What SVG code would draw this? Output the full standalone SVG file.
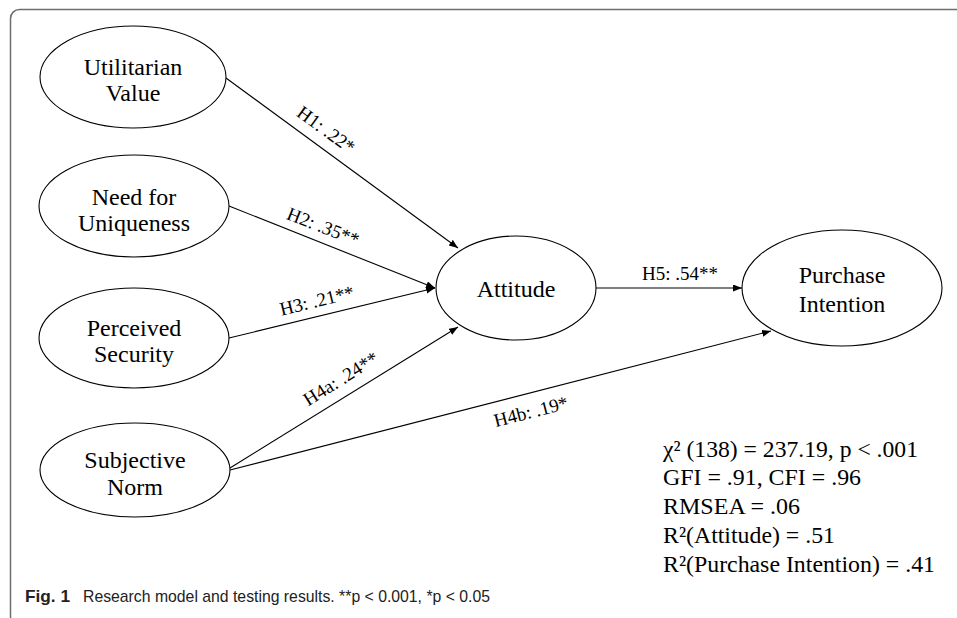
<svg xmlns="http://www.w3.org/2000/svg" width="957" height="618" viewBox="0 0 957 618">
  <style>
    .node { fill: #ffffff; stroke: #000000; stroke-width: 1.1; }
    .label { font-family: "Liberation Serif", "Times New Roman", serif; font-size: 24px; fill: #000000; text-anchor: middle; }
    .edge { fill: none; stroke: #000000; stroke-width: 1.1; marker-end: url(#arrow); }
    .elabel { font-family: "Liberation Serif", "Times New Roman", serif; font-size: 19px; fill: #000000; text-anchor: middle; }
    .stats { font-family: "Liberation Serif", "Times New Roman", serif; font-size: 23px; fill: #000000; }
    .caption { font-family: "Liberation Sans", Arial, sans-serif; font-size: 17px; fill: #222222; }
  </style>
  <defs>
    <marker id="arrow" markerUnits="userSpaceOnUse" markerWidth="10" markerHeight="8" refX="9" refY="3.5" orient="auto">
      <path d="M0,0 L9,3.5 L0,7 z" fill="#000000"/>
    </marker>
  </defs>

  <rect width="957" height="618" fill="#ffffff"/>
  <!-- figure frame -->
  <rect x="10.5" y="9.5" width="970" height="616" rx="9" ry="9" fill="none" stroke="#6e6e6e" stroke-width="1.5"/>

  <!-- connectors -->
  <g id="connectors">
    <line class="edge" x1="226" y1="78" x2="458" y2="248"/>
    <line class="edge" x1="229" y1="206" x2="435" y2="288"/>
    <line class="edge" x1="229" y1="338" x2="435" y2="288"/>
    <line class="edge" x1="230" y1="468" x2="458" y2="327"/>
    <line class="edge" x1="230" y1="470" x2="771" y2="331"/>
    <line class="edge" x1="596" y1="288" x2="742" y2="288"/>

    <text class="elabel" transform="translate(326,130) rotate(36.2)" y="6">H1: .22*</text>
    <text class="elabel" transform="translate(323,227) rotate(21.5)" y="6">H2: .35**</text>
    <text class="elabel" transform="translate(317,301) rotate(-13.6)" y="6">H3: .21**</text>
    <text class="elabel" transform="translate(341,379) rotate(-31.9)" y="6">H4a: .24**</text>
    <text class="elabel" transform="translate(531,412) rotate(-14.4)" y="6">H4b: .19*</text>
    <text class="elabel" x="680" y="280">H5: .54**</text>
  </g>

  <!-- nodes -->
  <g id="utilitarian-value">
    <ellipse class="node" cx="133" cy="77" rx="93" ry="51"/>
    <text class="label" x="133" y="75">Utilitarian</text>
    <text class="label" x="133" y="101">Value</text>
  </g>
  <g id="need-for-uniqueness">
    <ellipse class="node" cx="134" cy="206" rx="95" ry="51"/>
    <text class="label" x="134" y="205">Need for</text>
    <text class="label" x="134" y="231">Uniqueness</text>
  </g>
  <g id="perceived-security">
    <ellipse class="node" cx="134" cy="338" rx="95" ry="50"/>
    <text class="label" x="134" y="336">Perceived</text>
    <text class="label" x="134" y="362">Security</text>
  </g>
  <g id="subjective-norm">
    <ellipse class="node" cx="135" cy="470" rx="95" ry="47"/>
    <text class="label" x="135" y="468">Subjective</text>
    <text class="label" x="135" y="495">Norm</text>
  </g>
  <g id="attitude">
    <ellipse class="node" cx="516" cy="288" rx="80" ry="52"/>
    <text class="label" x="516" y="297">Attitude</text>
  </g>
  <g id="purchase-intention">
    <ellipse class="node" cx="842" cy="288" rx="100" ry="58"/>
    <text class="label" x="842" y="283">Purchase</text>
    <text class="label" x="842" y="312">Intention</text>
  </g>

  <!-- model fit statistics -->
  <g id="fit-statistics">
    <text class="stats" x="663" y="457" textLength="255" lengthAdjust="spacingAndGlyphs">χ² (138) = 237.19, p &lt; .001</text>
    <text class="stats" x="663" y="485" textLength="198" lengthAdjust="spacingAndGlyphs">GFI = .91, CFI = .96</text>
    <text class="stats" x="663" y="514" textLength="137" lengthAdjust="spacingAndGlyphs">RMSEA = .06</text>
    <text class="stats" x="663" y="543" textLength="172" lengthAdjust="spacingAndGlyphs">R²(Attitude) = .51</text>
    <text class="stats" x="663" y="572" textLength="272" lengthAdjust="spacingAndGlyphs">R²(Purchase Intention) = .41</text>
  </g>

  <!-- caption -->
  <g id="caption">
    <text class="caption" x="25" y="602" font-weight="bold" textLength="45" lengthAdjust="spacingAndGlyphs">Fig. 1</text>
    <text class="caption" x="83" y="602" textLength="407" lengthAdjust="spacingAndGlyphs">Research model and testing results. **p &lt; 0.001, *p &lt; 0.05</text>
  </g>
</svg>
